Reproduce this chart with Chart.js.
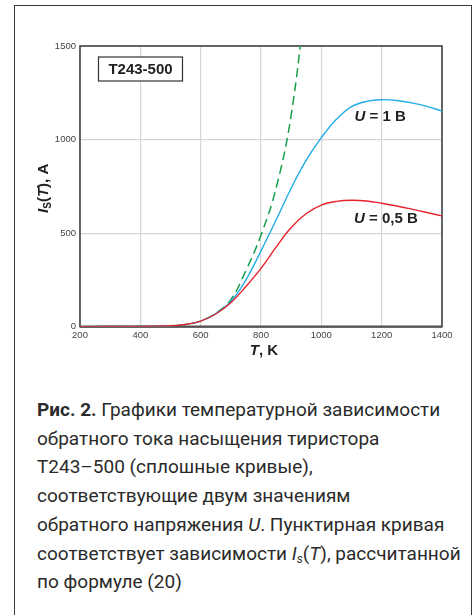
<!DOCTYPE html>
<html>
<head>
<meta charset="utf-8">
<script src="https://cdn.jsdelivr.net/npm/chart.js@4.4.1/dist/chart.umd.min.js"></script>
<style>
  body { margin: 0; background: #fff; width: 474px; height: 615px; overflow: hidden; position: relative; }
  #frame { position: absolute; left: 14px; top: 5px; width: 456px; height: 700px; border: 1.5px solid #3a3a3a; border-bottom: none; }
  #wrap { position: absolute; left: 0; top: 0; width: 474px; height: 370px; }
  #caption { position: absolute; left: 37px; top: 396px; width: 432px; font-family: Roboto, "Noto Sans", sans-serif; font-size: 19px; line-height: 28.7px; color: #2a2a2a; }
  #caption b { font-weight: 700; }
  #caption sub { font-size: 12px; vertical-align: -3px; line-height: 0; }
</style>
</head>
<body>
<div id="frame"></div>
<div id="wrap"><canvas id="canv" width="474" height="370"></canvas></div>
<div id="caption">
<b>Рис. 2.</b> Графики температурной зависимости<br>
обратного тока насыщения тиристора<br>
Т243–500 (сплошные кривые),<br>
соответствующие двум значениям<br>
обратного напряжения <i>U</i>. Пунктирная кривая<br>
соответствует зависимости <i>I<sub>s</sub></i>(<i>T</i>), рассчитанной<br>
по формуле (20)
</div>
<script>
// температура, К
var temps = [200, 250, 300, 350, 400, 450, 500, 550, 600, 650, 700, 750, 800, 850, 900, 950, 1000, 1050, 1100, 1150, 1200, 1250, 1300, 1350, 1400];
// U = 1 B (голубая)
var curU1 = [0, 0.5, 1, 1.5, 2, 3, 5, 12, 30, 70, 135, 250, 405, 570, 740, 890, 1010, 1108, 1176, 1204, 1213, 1209, 1196, 1177, 1153];
// U = 0,5 B (красная)
var curU05 = [0, 0.5, 1, 1.5, 2, 3, 5, 12, 30, 68, 128, 215, 312, 425, 530, 605, 650, 670, 676, 672, 660, 645, 628, 610, 592];
// по формуле (20), пунктир
var tempsCalc = [200, 250, 300, 350, 400, 450, 500, 550, 600, 650, 700, 750, 800, 850, 900, 950];
var curCalc = [0, 0.5, 1, 1.5, 2, 3, 5, 12, 30, 72, 145, 300, 490, 740, 1130, 1780];

var xTicks = [200, 400, 600, 800, 1000, 1200, 1400];
var yTicks = [0, 500, 1000, 1500];

function toPoints(xs, ys)
{
  var pts = [];
  for (var i = 0; i < xs.length; i++)
  {
    pts.push({x: xs[i], y: ys[i]});
  }
  return pts;
}

// рисуем текст из кусков с разным начертанием
function drawPieces(ctx, pieces, x, y)
{
  var total = 0;
  for (var i = 0; i < pieces.length; i++)
  {
    ctx.font = pieces[i].font;
    total += ctx.measureText(pieces[i].t).width;
  }
  var cx = x - total / 2;
  for (var j = 0; j < pieces.length; j++)
  {
    ctx.font = pieces[j].font;
    ctx.fillText(pieces[j].t, cx, y + (pieces[j].dy || 0));
    cx += ctx.measureText(pieces[j].t).width;
  }
}

var FONT = '"Liberation Sans", Arial, sans-serif';

var decor = {
  id: 'decor',
  beforeDatasetsDraw: function(chart)
  {
    var ctx = chart.ctx;
    var a = chart.chartArea;
    ctx.save();
    ctx.strokeStyle = '#3a3a3a';
    ctx.lineWidth = 1.5;
    ctx.strokeRect(a.left, a.top, a.right - a.left, a.bottom - a.top);
    ctx.strokeStyle = '#555';
    ctx.lineWidth = 2.2;
    ctx.beginPath();
    ctx.moveTo(a.left, a.bottom);
    ctx.lineTo(a.right, a.bottom);
    ctx.stroke();
    ctx.restore();
  },
  afterDatasetsDraw: function(chart)
  {
    var ctx = chart.ctx;
    var a = chart.chartArea;
    var xs = chart.scales.x;
    var ys = chart.scales.y;
    ctx.save();
    ctx.textBaseline = 'middle';

    // табличка с типом прибора
    ctx.fillStyle = '#fff';
    ctx.fillRect(a.left + 18.5, a.top + 11, 84, 24);
    ctx.strokeStyle = '#333';
    ctx.lineWidth = 1.2;
    ctx.strokeRect(a.left + 18.5, a.top + 11, 84, 24);
    ctx.fillStyle = '#222';
    drawPieces(ctx, [{t: 'T243-500', font: 'bold 15px ' + FONT}], a.left + 60.5, a.top + 23.5);

    // подписи кривых
    drawPieces(ctx, [
      {t: 'U', font: 'italic bold 15px ' + FONT},
      {t: ' = 1 B', font: 'bold 15px ' + FONT}
    ], xs.getPixelForValue(1195), ys.getPixelForValue(1120));
    drawPieces(ctx, [
      {t: 'U', font: 'italic bold 15px ' + FONT},
      {t: ' = 0,5 B', font: 'bold 15px ' + FONT}
    ], xs.getPixelForValue(1214), ys.getPixelForValue(575));

    // подпись оси X
    drawPieces(ctx, [
      {t: 'T', font: 'italic bold 15px ' + FONT},
      {t: ', K', font: 'bold 15px ' + FONT}
    ], (a.left + a.right) / 2 + 3, a.bottom + 24);

    // подпись оси Y
    ctx.translate(44, (a.top + a.bottom) / 2 + 2);
    ctx.rotate(-Math.PI / 2);
    drawPieces(ctx, [
      {t: 'I', font: 'italic bold 15px ' + FONT},
      {t: 'S', font: 'bold 10px ' + FONT, dy: 4},
      {t: '(', font: 'bold 15px ' + FONT},
      {t: 'T', font: 'italic bold 15px ' + FONT},
      {t: '), A', font: 'bold 15px ' + FONT}
    ], 0, 0);
    ctx.restore();
  }
};

function plainTick(value)
{
  return String(value);
}

var chart = new Chart(document.getElementById('canv'), {
  type: 'line',
  data: {
    datasets: [
      {
        label: 'U = 0,5 B',
        data: toPoints(temps, curU05),
        borderColor: '#e8232d',
        borderWidth: 1.4,
        pointRadius: 0,
        fill: false,
        tension: 0.4
      },
      {
        label: 'U = 1 B',
        data: toPoints(temps, curU1),
        borderColor: '#22ade6',
        borderWidth: 1.4,
        pointRadius: 0,
        fill: false,
        tension: 0.4
      },
      {
        label: 'формула (20)',
        data: toPoints(tempsCalc, curCalc),
        borderColor: '#16a04c',
        borderWidth: 1.5,
        borderDash: [9, 5],
        pointRadius: 0,
        fill: false,
        tension: 0.4
      }
    ]
  },
  options: {
    responsive: false,
    animation: false,
    events: [],
    layout: {
      padding: {left: 0, top: 46, right: 32, bottom: 0}
    },
    plugins: {
      legend: {display: false},
      tooltip: {enabled: false}
    },
    scales: {
      x: {
        type: 'linear',
        min: 200,
        max: 1400,
        afterFit: function(scale) { scale.height = 43.3; },
        afterBuildTicks: function(scale) { scale.ticks = xTicks.map(function(v) { return {value: v}; }); },
        ticks: {
          padding: 3,
          color: '#444',
          font: {family: FONT, size: 9.5},
          callback: plainTick
        },
        grid: {color: '#d6d6d6', lineWidth: 1.2, drawTicks: false},
        border: {display: false}
      },
      y: {
        min: 0,
        max: 1500,
        afterFit: function(scale) { scale.width = 80; },
        afterBuildTicks: function(scale) { scale.ticks = yTicks.map(function(v) { return {value: v}; }); },
        ticks: {
          padding: 4,
          color: '#444',
          font: {family: FONT, size: 9.5},
          callback: plainTick
        },
        grid: {color: '#d6d6d6', lineWidth: 1.2, drawTicks: false},
        border: {display: false}
      }
    }
  },
  plugins: [decor]
});
</script>
</body>
</html>
